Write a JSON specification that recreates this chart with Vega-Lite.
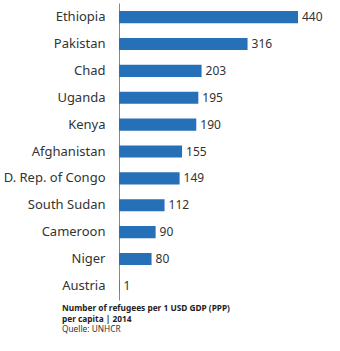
{
  "$schema": "https://vega.github.io/schema/vega-lite/v6.json",
  "width": 179,
  "height": 297,
  "autosize": "none",
  "padding": {"left": 119, "top": 3, "right": 42, "bottom": 51},
  "background": "white",
  "config": {"view": {"stroke": null}, "font": "Noto Sans"},
  "data": {"values": [
    {"country": "Ethiopia", "value": 440},
    {"country": "Pakistan", "value": 316},
    {"country": "Chad", "value": 203},
    {"country": "Uganda", "value": 195},
    {"country": "Kenya", "value": 190},
    {"country": "Afghanistan", "value": 155},
    {"country": "D. Rep. of Congo", "value": 149},
    {"country": "South Sudan", "value": 112},
    {"country": "Cameroon", "value": 90},
    {"country": "Niger", "value": 80},
    {"country": "Austria", "value": 1}
  ]},
  "title": {
    "text": ["Number of refugees per 1 USD GDP (PPP)", "per capita | 2014"],
    "subtitle": "Quelle: UNHCR",
    "orient": "bottom",
    "anchor": "start",
    "frame": "group",
    "dx": -57,
    "offset": 4,
    "fontSize": 8.3,
    "fontWeight": "bold",
    "color": "#222",
    "lineHeight": 11,
    "subtitleFontSize": 8.3,
    "subtitleColor": "#333",
    "subtitleLineHeight": 10,
    "subtitlePadding": 2,
    "font": "Noto Sans",
    "subtitleFont": "Noto Sans"
  },
  "encoding": {
    "y": {
      "field": "country", "type": "nominal", "sort": null,
      "scale": {"paddingInner": 0.55, "paddingOuter": 0.3},
      "axis": {
        "title": null, "ticks": false, "labelPadding": 14,
        "labelFontSize": 13, "labelColor": "#333", "labelFont": "Noto Sans",
        "domainColor": "#888", "domainWidth": 1
      }
    },
    "x": {
      "field": "value", "type": "quantitative",
      "scale": {"domain": [0, 440], "nice": false},
      "axis": null
    }
  },
  "layer": [
    {"mark": {"type": "bar", "color": "#2670b8"}},
    {"mark": {"type": "text", "align": "left", "dx": 4, "fontSize": 12, "color": "#333", "font": "Noto Sans"},
     "encoding": {"text": {"field": "value", "type": "quantitative"}}}
  ]
}
